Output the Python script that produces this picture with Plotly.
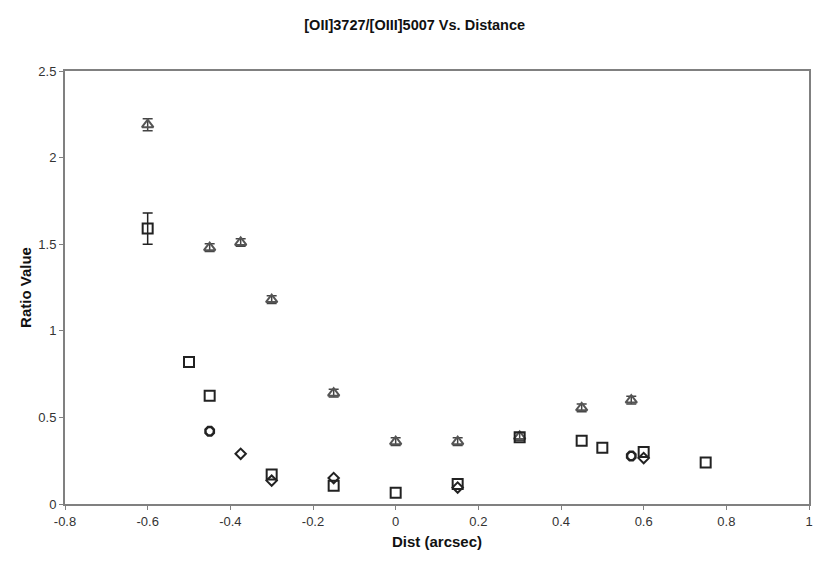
import plotly.graph_objects as go

# --- data ---
tri_x = [-0.6, -0.45, -0.375, -0.3, -0.15, 0.0, 0.15, 0.3, 0.45, 0.57]
tri_y = [2.19, 1.48, 1.51, 1.18, 0.64, 0.36, 0.36, 0.39, 0.555, 0.60]
tri_err = [0.035, 0.022, 0.022, 0.022, 0.022, 0.022, 0.022, 0.022, 0.022, 0.022]

sq_x = [-0.5, -0.45, -0.3, -0.15, 0.0, 0.15, 0.3, 0.45, 0.5, 0.6, 0.75]
sq_y = [0.82, 0.625, 0.17, 0.105, 0.065, 0.115, 0.385, 0.365, 0.325, 0.30, 0.24]

# the one square with a visible error bar
sq_err_x = [-0.6]
sq_err_y = [1.59]
sq_err = [0.09]

dia_x = [-0.375, -0.3, -0.15, 0.15, 0.6]
dia_y = [0.29, 0.135, 0.15, 0.095, 0.265]

oct_x = [-0.45, 0.57]
oct_y = [0.42, 0.277]

x_ticks = [-0.8, -0.6, -0.4, -0.2, 0, 0.2, 0.4, 0.6, 0.8, 1]
x_labels = ["-0.8", "-0.6", "-0.4", "-0.2", "0", "0.2", "0.4", "0.6", "0.8", "1"]
y_ticks = [0, 0.5, 1, 1.5, 2, 2.5]
y_labels = ["0", "0.5", "1", "1.5", "2", "2.5"]

FONT = "Liberation Sans, Arial, sans-serif"
DARK = "#222222"

fig = go.Figure()

fig.add_trace(go.Scatter(
    x=tri_x, y=tri_y, mode="markers",
    marker=dict(symbol="triangle-up-open", size=10, color="#555555",
                line=dict(width=2, color="#555555")),
    error_y=dict(type="data", array=tri_err, color="#444444", thickness=1.5, width=5),
))
fig.add_trace(go.Scatter(
    x=sq_x, y=sq_y, mode="markers",
    marker=dict(symbol="square-open", size=10, color=DARK,
                line=dict(width=2, color=DARK)),
))
fig.add_trace(go.Scatter(
    x=sq_err_x, y=sq_err_y, mode="markers",
    marker=dict(symbol="square-open", size=10, color=DARK,
                line=dict(width=2, color=DARK)),
    error_y=dict(type="data", array=sq_err, color=DARK, thickness=1.5, width=5),
))
fig.add_trace(go.Scatter(
    x=dia_x, y=dia_y, mode="markers",
    marker=dict(symbol="diamond-open", size=8, color=DARK,
                line=dict(width=2, color=DARK)),
))
fig.add_trace(go.Scatter(
    x=oct_x, y=oct_y, mode="markers",
    marker=dict(symbol="octagon-open", size=9, color=DARK,
                line=dict(width=2.5, color=DARK)),
))

fig.update_layout(
    width=830, height=565,
    paper_bgcolor="white", plot_bgcolor="white",
    showlegend=False,
    margin=dict(l=57, r=29, t=63, b=69),
    font=dict(family=FONT, color="#333333", size=13),
    title=dict(text="<b>[OII]3727/[OIII]5007 Vs. Distance</b>",
               x=0.49, xanchor="center", y=0.97, yanchor="middle",
               font=dict(family=FONT, size=14.5, color="#111111")),
)

fig.update_xaxes(
    range=[-0.8, 1], tickvals=x_ticks, ticktext=x_labels,
    showgrid=False, zeroline=False,
    showline=True, linecolor="#808080", linewidth=2, mirror=True,
    ticks="outside", ticklen=4, tickcolor="#808080",
    title=dict(text="<b>Dist (arcsec)</b>", standoff=9,
               font=dict(family=FONT, size=15, color="#111111")),
)
fig.update_yaxes(
    range=[0, 2.5], tickvals=y_ticks, ticktext=y_labels,
    showgrid=False, zeroline=False,
    showline=True, linecolor="#808080", linewidth=2, mirror=True,
    ticks="outside", ticklen=4, tickcolor="#808080",
    title=dict(text="<b>Ratio Value</b>", standoff=3,
               font=dict(family=FONT, size=15, color="#111111")),
)

fig.write_html("out.html")
